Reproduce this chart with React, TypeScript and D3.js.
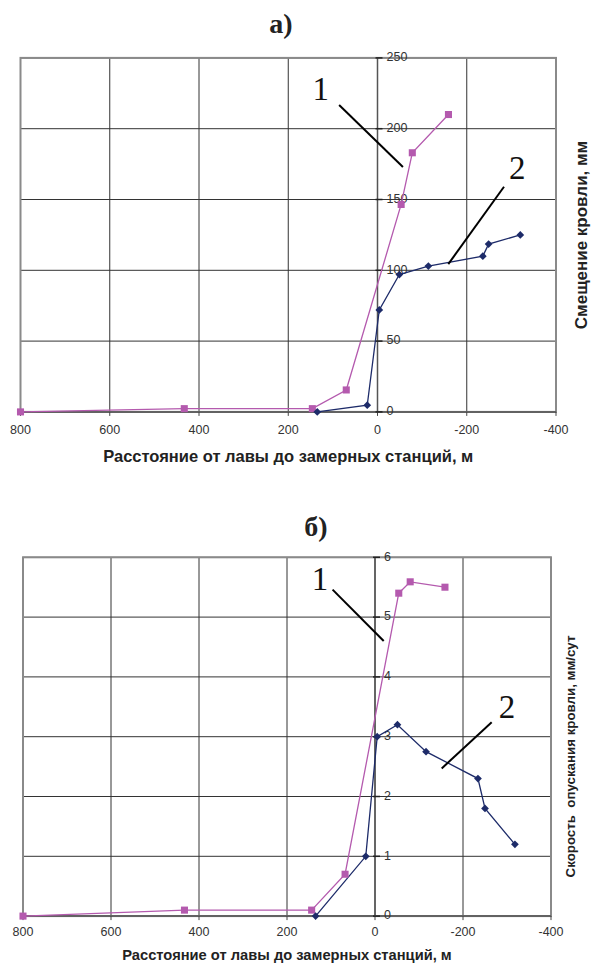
import React, { useRef, useEffect } from 'react';
import * as d3 from 'd3';

// panel a) - roof displacement, mm
const topX1 = [800, 433, 146, 70, -53, -78, -159];
const topY1 = [0, 2.3, 2.3, 15.5, 146.5, 183, 210];
const topX2 = [135, 23, -4, -49, -114, -236, -249, -320];
const topY2 = [0, 4.7, 72, 97, 103, 110, 118.5, 125];
const topYTicks = [0, 50, 100, 150, 200, 250];

// panel б) - roof lowering rate, mm/day
const botX1 = [800, 433, 144, 68, -54, -80, -159];
const botY1 = [0, 0.1, 0.1, 0.7, 5.4, 5.59, 5.5];
const botX2 = [135, 21, -5, -51, -116, -234, -250, -318];
const botY2 = [0, 1.0, 3.0, 3.2, 2.75, 2.3, 1.8, 1.2];
const botYTicks = [0, 1, 2, 3, 4, 5, 6];

const xTicks = [800, 600, 400, 200, 0, -200, -400];
const xTitle = 'Расстояние от лавы до замерных станций, м';

// leader lines for curve numbers, in data units
const topNotes = [
  { label: '1', x: 127, y: 220, line: [[86, 216.7], [-57, 173]] },
  { label: '2', x: -313, y: 164.5, line: [[-158.7, 104.4], [-283.5, 159]] },
];
const botNotes = [
  { label: '1', x: 125, y: 5.45, line: [[96.4, 5.46], [-19.8, 4.6]] },
  { label: '2', x: -300, y: 3.31, line: [[-151.6, 2.47], [-265.2, 3.24]] },
];

const PINK = '#b45aae';
const NAVY = '#1d2b69';
const SANS = 'Liberation Sans, Arial, sans-serif';
const SERIF = 'Liberation Serif, Times New Roman, serif';

const drawPanel = (svg, o) => {
  const x = d3.scaleLinear().domain([800, -400]).range(o.xr);
  const y = d3.scaleLinear().domain(o.yd).range(o.yr);
  const g = svg.append('g');

  // grid
  g.selectAll('.gx').data(xTicks).join('line')
    .attr('x1', d => x(d)).attr('x2', d => x(d))
    .attr('y1', o.yr[1]).attr('y2', o.yr[0])
    .attr('stroke', '#333').attr('stroke-width', 1);
  g.selectAll('.gy').data(o.yTicks).join('line')
    .attr('x1', o.xr[0]).attr('x2', o.xr[1])
    .attr('y1', d => y(d)).attr('y2', d => y(d))
    .attr('stroke', '#333').attr('stroke-width', 1);
  g.append('rect')
    .attr('x', o.xr[0]).attr('y', o.yr[1])
    .attr('width', o.xr[1] - o.xr[0]).attr('height', o.yr[0] - o.yr[1])
    .attr('fill', 'none').attr('stroke', '#8a8a8a').attr('stroke-width', 2);

  // axes through zero
  g.append('line')
    .attr('x1', o.xr[0]).attr('x2', o.xr[1]).attr('y1', y(0)).attr('y2', y(0))
    .attr('stroke', '#555').attr('stroke-width', 1.5);
  g.append('line')
    .attr('x1', x(0)).attr('x2', x(0)).attr('y1', o.yr[1]).attr('y2', o.yr[0])
    .attr('stroke', '#555').attr('stroke-width', 1.5);
  g.selectAll('.tx').data(xTicks).join('line')
    .attr('x1', d => x(d)).attr('x2', d => x(d))
    .attr('y1', y(0)).attr('y2', y(0) + 4)
    .attr('stroke', '#444');
  g.selectAll('.ty').data(o.yTicks).join('line')
    .attr('x1', x(0) - 2).attr('x2', x(0) + 5)
    .attr('y1', d => y(d)).attr('y2', d => y(d))
    .attr('stroke', '#222').attr('stroke-width', 1.5);

  // tick labels
  g.selectAll('.lx').data(xTicks).join('text')
    .attr('x', d => x(d)).attr('y', y(0) + o.xlab)
    .attr('text-anchor', 'middle').attr('dominant-baseline', 'middle')
    .attr('font-family', SANS).attr('font-size', 12.5)
    .attr('fill', '#333').text(d => d);
  g.selectAll('.ly').data(o.yTicks).join('text')
    .attr('x', x(0) + 9).attr('y', d => y(d))
    .attr('dominant-baseline', 'middle')
    .attr('font-family', SANS).attr('font-size', 12.5)
    .attr('fill', '#333').text(d => d);

  // series
  const line = d3.line().x(d => x(d[0])).y(d => y(d[1]));
  const s1 = o.x1.map((v, i) => [v, o.y1[i]]);
  const s2 = o.x2.map((v, i) => [v, o.y2[i]]);
  g.append('path').attr('d', line(s1)).attr('fill', 'none').attr('stroke', PINK).attr('stroke-width', 1.3);
  g.append('path').attr('d', line(s2)).attr('fill', 'none').attr('stroke', NAVY).attr('stroke-width', 1.3);
  g.selectAll('.m1').data(s1).join('path')
    .attr('d', d3.symbol(d3.symbolSquare, 50))
    .attr('transform', d => `translate(${x(d[0])},${y(d[1])})`)
    .attr('fill', PINK);
  g.selectAll('.m2').data(s2).join('path')
    .attr('d', d3.symbol(d3.symbolSquare, 30))
    .attr('transform', d => `translate(${x(d[0])},${y(d[1])}) rotate(45)`)
    .attr('fill', NAVY);

  // curve numbers
  o.notes.forEach(n => {
    g.append('line')
      .attr('x1', x(n.line[0][0])).attr('y1', y(n.line[0][1]))
      .attr('x2', x(n.line[1][0])).attr('y2', y(n.line[1][1]))
      .attr('stroke', '#000').attr('stroke-width', 2);
    g.append('text')
      .attr('x', x(n.x)).attr('y', y(n.y))
      .attr('text-anchor', 'middle')
      .attr('font-family', SERIF).attr('font-size', 33)
      .attr('fill', '#111').text(n.label);
  });

  // titles
  svg.append('text')
    .attr('x', o.title[0]).attr('y', o.title[1])
    .attr('text-anchor', 'middle')
    .attr('font-family', SERIF).attr('font-weight', 'bold')
    .attr('font-size', 28).attr('fill', '#222').text(o.titleText);
  svg.append('text')
    .attr('x', (o.xr[0] + o.xr[1]) / 2).attr('y', o.xTitleY)
    .attr('text-anchor', 'middle').attr('dominant-baseline', 'middle')
    .attr('font-family', SANS).attr('font-weight', 'bold')
    .attr('font-size', o.xTitleSize).attr('fill', '#222').text(xTitle);
  svg.append('text')
    .attr('transform', `translate(${o.yTitle[0]},${o.yTitle[1]}) rotate(-90)`)
    .attr('text-anchor', 'middle').attr('dominant-baseline', 'middle')
    .attr('font-family', SANS).attr('font-weight', 'bold')
    .attr('font-size', o.yTitleSize).attr('fill', '#222')
    .style('white-space', 'pre')
    .text(o.yTitleText);
};

const App = () => {
  const svgref = useRef(null);

  useEffect(() => {
    const svg = d3.select(svgref.current);
    svg.selectAll('*').remove();
    drawPanel(svg, {
      xr: [20.5, 556], yd: [0, 250], yr: [411.9, 57.9], yTicks: topYTicks,
      x1: topX1, y1: topY1, x2: topX2, y2: topY2, notes: topNotes,
      xlab: 19, title: [281, 33], titleText: 'а)',
      xTitleY: 458, xTitleSize: 16.5,
      yTitle: [583, 235], yTitleSize: 17, yTitleText: 'Смещение кровли, мм',
    });
    drawPanel(svg, {
      xr: [23, 551], yd: [0, 6], yr: [916.1, 557.3], yTicks: botYTicks,
      x1: botX1, y1: botY1, x2: botX2, y2: botY2, notes: botNotes,
      xlab: 17, title: [316, 536], titleText: 'б)',
      xTitleY: 956, xTitleSize: 14.7,
      yTitle: [571, 756.5], yTitleSize: 13.3, yTitleText: 'Скорость  опускания кровли, мм/сут',
    });
  }, []);

  return (
    <svg ref={svgref} width={594} height={965}
      style={{ position: 'absolute', left: 0, top: 0, background: '#fff' }} />
  );
};

export default App;
